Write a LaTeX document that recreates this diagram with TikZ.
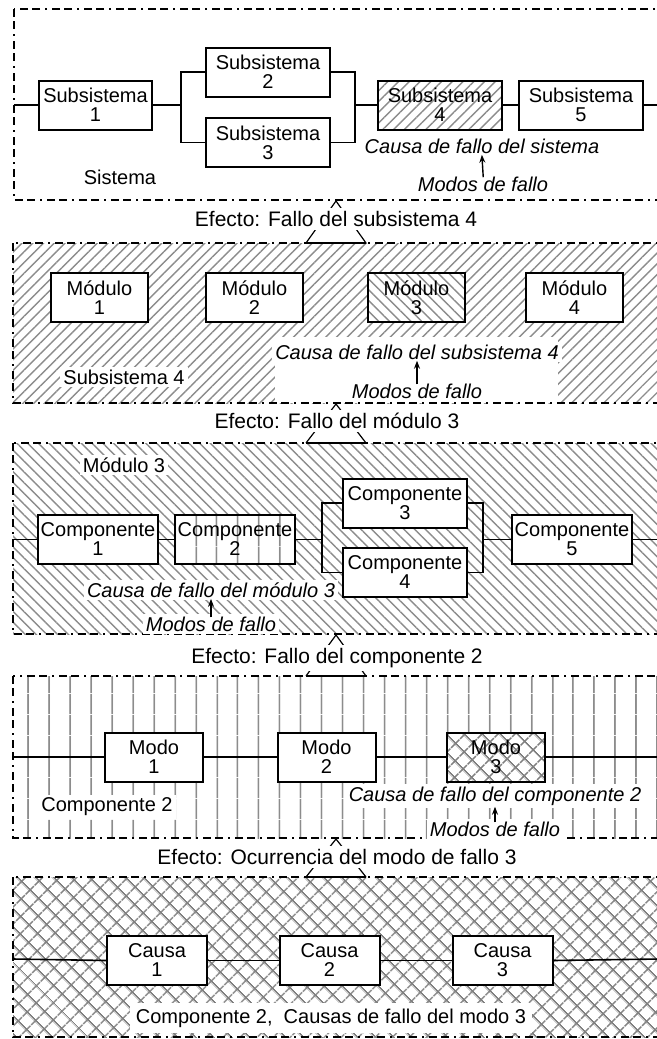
\documentclass[tikz,border=0pt]{standalone}
\usepackage{fontspec}
\setmainfont{Liberation Sans}
\usetikzlibrary{patterns.meta,arrows.meta}
\begin{document}
\begin{tikzpicture}[x=0.5pt,y=-0.5pt,
  box/.style={draw,line width=1pt,fill=white,align=center,inner sep=0pt,minimum height=24.5pt,font=\fontsize{10}{9.5}\selectfont},
  conn/.style={line width=0.8pt},
  frame/.style={line width=0.8pt,dash pattern=on 4pt off 2pt on 4pt off 2.5pt on 1pt off 2.5pt},
  lbl/.style={font=\fontsize{10}{11}\selectfont,inner sep=1.5pt,fill=white},
  efl/.style={font=\fontsize{10.5}{11}\selectfont,inner sep=1.5pt,fill=white},
  ital/.style={font=\fontsize{10}{11}\selectfont\itshape,inner sep=1.5pt,fill=white},
  up/.style={line width=0.7pt,-{Stealth[length=4pt,width=3pt]},shorten <=-2pt,shorten >=-1pt},
  mag/.style={line width=0.6pt},
  hne/.style={pattern={Lines[angle=45,distance=3.8pt,line width=0.7pt]},pattern color=gray!90},
  hnw/.style={pattern={Lines[angle=-45,distance=3.8pt,line width=0.7pt]},pattern color=gray!90},
  hv/.style={pattern={Lines[angle=90,distance=10.5pt,xshift=2.85pt,line width=0.9pt]},pattern color=gray!90},
  hx/.style={pattern={Hatch[angle=45,distance=6.5pt,line width=0.9pt]},pattern color=gray},
  pbox/.style={box,preaction={fill=white}}
]
\useasboundingbox (0,0) rectangle (657,1039);
\clip (0,0) rectangle (657,1039);

% ---------------- Panel 1 ----------------
\draw[frame] (14,9) rectangle (700,200);
\node[box,minimum width=56.5pt] (s1) at (95.5,105) {Subsistema\\1};
\node[box,minimum width=62pt] (s2) at (268,72) {Subsistema\\2};
\node[box,minimum width=62pt] (s3) at (268,142.5) {Subsistema\\3};
\node[pbox,hne,minimum width=62pt] (s4) at (440,105) {Subsistema\\4};
\node[box,minimum width=62pt] (s5) at (581,105) {Subsistema\\5};
\coordinate (in1) at (14,105);
\coordinate (out1) at (660,105);
\coordinate (j1a) at (181,105);
\coordinate (j1b) at (355,105);
\draw[conn] (in1) -- (s1.west);
\draw[conn] (s1.east) -- (j1a);
\draw[conn] (j1a) |- (s2.west);
\draw[conn] (j1a) |- (s3.west);
\draw[conn] (s2.east) -| (j1b);
\draw[conn] (s3.east) -| (j1b);
\draw[conn] (j1b) -- (s4.west);
\draw[conn] (s4.east) -- (s5.west);
\draw[conn] (s5.east) -- (out1);
\node[lbl] (sis) at (120,177) {Sistema};
\node[ital] (c1) at (482,146) {Causa de fallo del sistema};
\node[ital] (m1) at (483,184) {Modos de fallo};
\draw[up] (m1.north) -- (c1.south);

% magnifier 1
\coordinate (a1) at (336,201);
\coordinate (l1) at (306,243);
\coordinate (r1) at (366,243);
\draw[mag] (l1) -- (a1) -- (r1) -- cycle;
\node[efl] (e1) at (336,219) {Efecto: Fallo del subsistema 4};

% ---------------- Panel 2 ----------------
\fill[hne] (13,243) rectangle (700,403);
\fill[white] (275,337) rectangle (558,403);
\draw[frame] (13,243) rectangle (700,403);
\draw[mag] (l1) -- (r1);
\node[box,minimum width=48.5pt] (mo1) at (99.5,297.5) {Módulo\\1};
\node[box,minimum width=48.5pt] (mo2) at (254.5,297.5) {Módulo\\2};
\node[pbox,hnw,minimum width=48.5pt] (mo3) at (416.5,297.5) {Módulo\\3};
\node[box,minimum width=48.5pt] (mo4) at (574.5,297.5) {Módulo\\4};
\node[lbl] (sub4) at (124,377) {Subsistema 4};
\node[ital] (c2) at (417,352) {Causa de fallo del subsistema 4};
\node[ital] (m2) at (417,391) {Modos de fallo};
\draw[up] (m2.north) -- (c2.south);

% magnifier 2
\coordinate (a2) at (336,404);
\coordinate (l2) at (306,443);
\coordinate (r2) at (366,443);
\draw[mag] (l2) -- (a2) -- (r2);
\node[efl] (e2) at (337,421) {Efecto: Fallo del módulo 3};

% ---------------- Panel 3 ----------------
\fill[hnw] (13,443) rectangle (700,634);
\draw[frame] (13,443) rectangle (700,634);
\draw[mag] (l2) -- (r2);
\node[lbl] (mod3) at (124,465) {Módulo 3};
\node[box,minimum width=60pt] (k1) at (98,539.5) {Componente\\1};
\node[pbox,hv,minimum width=60pt] (k2) at (235,539.5) {Componente\\2};
\node[box,minimum width=62pt] (k3) at (405,503) {Componente\\3};
\node[box,minimum width=62pt] (k4) at (405,572.5) {Componente\\4};
\node[box,minimum width=60pt] (k5) at (572,539.5) {Componente\\5};
\coordinate (in3) at (13,539.5);
\coordinate (out3) at (660,539.5);
\coordinate (j3a) at (322,539.5);
\coordinate (j3b) at (483,539.5);
\draw[conn] (in3) -- (k1.west);
\draw[conn] (k1.east) -- (k2.west);
\draw[conn] (k2.east) -- (j3a);
\draw[conn] (j3a) |- (k3.west);
\draw[conn] (j3a) |- (k4.west);
\draw[conn] (k3.east) -| (j3b);
\draw[conn] (k4.east) -| (j3b);
\draw[conn] (j3b) -- (k5.west);
\draw[conn] (k5.east) -- (out3);
\node[ital] (c3) at (211,590) {Causa de fallo del módulo 3};
\node[ital] (m3) at (211,624) {Modos de fallo};
\draw[up] (m3.north) -- (c3.south);

% magnifier 3
\coordinate (a3) at (336,635);
\coordinate (l3) at (306,676);
\coordinate (r3) at (366,676);
\draw[mag] (l3) -- (a3) -- (r3);
\node[efl] (e3) at (337,658) {Efecto: Fallo del componente 2};

% ---------------- Panel 4 ----------------
\fill[hv] (13,676) rectangle (700,838);
\draw[frame] (13,676) rectangle (700,838);
\draw[mag] (l3) -- (r3);
\node[box,minimum width=49pt] (d1) at (154,757) {Modo\\1};
\node[box,minimum width=49pt] (d2) at (326.5,757) {Modo\\2};
\node[pbox,hx,minimum width=49pt] (d3) at (496,757) {Modo\\3};
\coordinate (in4) at (13,757);
\coordinate (out4) at (660,757);
\draw[conn] (in4) -- (d1.west);
\draw[conn] (d1.east) -- (d2.west);
\draw[conn] (d2.east) -- (d3.west);
\draw[conn] (d3.east) -- (out4);
\node[lbl] (comp2) at (107,807) {Componente 2};
\node[ital] (c4) at (495,796) {Causa de fallo del componente 2};
\node[ital] (m4) at (495,829) {Modos de fallo};
\draw[up] (m4.north) -- (c4.south);

% magnifier 4
\coordinate (a4) at (336,839);
\coordinate (l4) at (306,877);
\coordinate (r4) at (366,877);
\draw[mag] (l4) -- (a4) -- (r4);
\node[efl] (e4) at (337,857) {Efecto: Ocurrencia del modo de fallo 3};

% ---------------- Panel 5 ----------------
\fill[hx] (13,877) rectangle (700,1037);
\draw[frame] (13,877) rectangle (700,1037);
\draw[mag] (l4) -- (r4);
\node[box,minimum width=50pt] (q1) at (157,960.5) {Causa\\1};
\node[box,minimum width=50pt] (q2) at (329.5,960.5) {Causa\\2};
\node[box,minimum width=50pt] (q3) at (502.5,960.5) {Causa\\3};
\coordinate (in5) at (13,959);
\coordinate (out5) at (660,959);
\draw[conn] (in5) -- (q1.west);
\draw[conn] (q1.east) -- (q2.west);
\draw[conn] (q2.east) -- (q3.west);
\draw[conn] (q3.east) -- (out5);
\node[lbl,inner sep=3pt] (fin) at (331,1018) {Componente 2,\ \ Causas de fallo del modo 3};
\end{tikzpicture}
\end{document}
